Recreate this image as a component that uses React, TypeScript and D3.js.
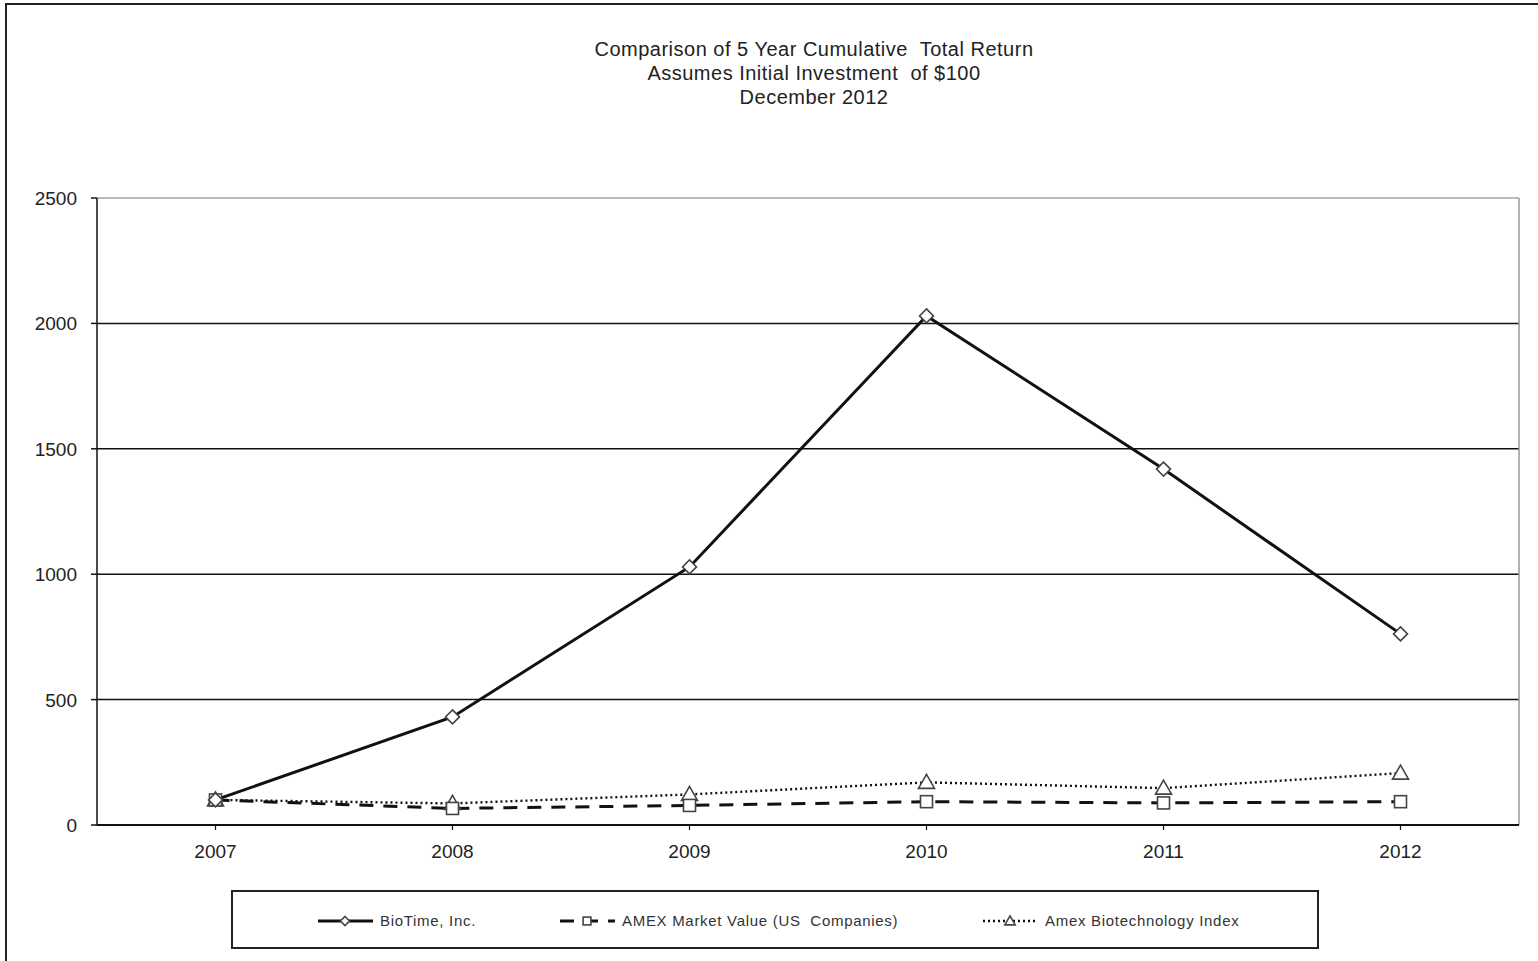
import React from "react";
import * as d3 from "d3";

const years = ["2007", "2008", "2009", "2010", "2011", "2012"];
const bioTime = [100, 431, 1029, 2030, 1419, 762];
const amexMarket = [100, 66, 78, 93, 88, 93];
const amexBiotech = [100, 86, 122, 170, 147, 207];
const yTicks = [0, 500, 1000, 1500, 2000, 2500];
const titleLines = [
  "Comparison of 5 Year Cumulative  Total Return",
  "Assumes Initial Investment  of $100",
  "December 2012",
];

const W = 1538;
const H = 961;
const plot = { left: 97, right: 1519, top: 198, bottom: 825 };
const font = "'Liberation Sans', Arial, sans-serif";

const series = [
  { name: "BioTime, Inc.", values: bioTime, marker: "diamond", dash: "", width: 3, legendX: 318 },
  { name: "AMEX Market Value (US  Companies)", values: amexMarket, marker: "square", dash: "14,10", width: 3, legendX: 560 },
  { name: "Amex Biotechnology Index", values: amexBiotech, marker: "triangle", dash: "2,3", width: 2.4, legendX: 983 },
];

function Marker({ type, x, y, s = 1 }: { type: string; x: number; y: number; s?: number }) {
  const st = { fill: "#fff", stroke: "#444", strokeWidth: 1.6 };
  if (type === "diamond") {
    const r = 7 * s;
    return <path d={`M${x},${y - r}L${x + r},${y}L${x},${y + r}L${x - r},${y}Z`} {...st} />;
  }
  if (type === "square") {
    const r = 6 * s;
    return <rect x={x - r} y={y - r} width={2 * r} height={2 * r} {...st} />;
  }
  const r = 8 * s;
  return <path d={`M${x},${y - r}L${x + r},${y + r * 0.75}L${x - r},${y + r * 0.75}Z`} {...st} />;
}

export default function App() {
  const x = d3.scalePoint<string>().domain(years).range([plot.left, plot.right]).padding(0.5);
  const y = d3.scaleLinear().domain([0, 2500]).range([plot.bottom, plot.top]);
  const line = d3
    .line<number>()
    .x((_, i) => x(years[i]) as number)
    .y((d) => y(d));

  return (
    <svg width={W} height={H} style={{ position: "absolute", left: 0, top: 0, background: "#fff" }} fontFamily={font}>
      {/* outer frame */}
      <rect x={6} y={4} width={W + 20} height={H + 20} fill="none" stroke="#222" strokeWidth={2} />

      {titleLines.map((t, i) => (
        <text key={i} x={814} y={56 + i * 24} textAnchor="middle" fontSize={20} letterSpacing={0.5} fill="#222" style={{ whiteSpace: "pre" }}>
          {t}
        </text>
      ))}

      {/* gridlines */}
      {yTicks.map((t) => (
        <line
          key={t}
          x1={plot.left}
          x2={plot.right}
          y1={y(t)}
          y2={y(t)}
          stroke={t === 2500 ? "#777" : "#111"}
          strokeWidth={t === 2500 ? 1 : 1.5}
        />
      ))}
      <line x1={plot.right} x2={plot.right} y1={plot.top} y2={plot.bottom} stroke="#999" strokeWidth={1.5} />

      {/* y axis */}
      <line x1={plot.left} x2={plot.left} y1={plot.top} y2={plot.bottom} stroke="#111" strokeWidth={1.5} />
      {yTicks.map((t) => (
        <g key={t}>
          <line x1={plot.left - 6} x2={plot.left} y1={y(t)} y2={y(t)} stroke="#111" strokeWidth={1.5} />
          <text x={plot.left - 20} y={y(t) + 7} textAnchor="end" fontSize={19} fill="#222">
            {t}
          </text>
        </g>
      ))}

      {/* x axis */}
      <line x1={plot.left} x2={plot.right} y1={plot.bottom} y2={plot.bottom} stroke="#111" strokeWidth={2} />
      {years.map((yr) => (
        <g key={yr}>
          <line x1={x(yr)} x2={x(yr)} y1={plot.bottom} y2={plot.bottom + 5} stroke="#111" strokeWidth={1.2} />
          <text x={x(yr)} y={858} textAnchor="middle" fontSize={19} fill="#222">
            {yr}
          </text>
        </g>
      ))}

      {/* series lines, back to front */}
      {[...series].reverse().map((s) => (
        <path
          key={s.name}
          d={line(s.values) || ""}
          fill="none"
          stroke="#111"
          strokeWidth={s.width}
          strokeDasharray={s.dash}
        />
      ))}
      {[...series].reverse().map((s) =>
        s.values.map((v, i) => <Marker key={s.name + i} type={s.marker} x={x(years[i]) as number} y={y(v)} />)
      )}

      {/* legend */}
      <rect x={232} y={891} width={1086} height={57} fill="#fff" stroke="#222" strokeWidth={2} />
      {series.map((s) => (
        <g key={s.name}>
          <line
            x1={s.legendX}
            x2={s.legendX + 55}
            y1={921}
            y2={921}
            stroke="#111"
            strokeWidth={s.width}
            strokeDasharray={s.dash}
          />
          <Marker type={s.marker} x={s.legendX + 27} y={921} s={0.65} />
          <text x={s.legendX + 62} y={926} fontSize={15} letterSpacing={0.7} fill="#333" style={{ whiteSpace: "pre" }}>
            {s.name}
          </text>
        </g>
      ))}
    </svg>
  );
}
